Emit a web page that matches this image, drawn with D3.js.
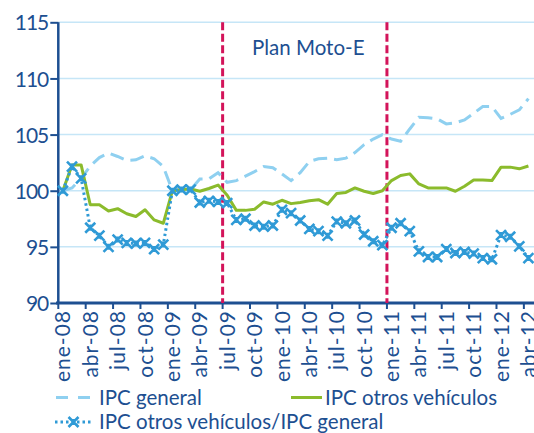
<!DOCTYPE html>
<html><head><meta charset="utf-8">
<script src="https://cdn.jsdelivr.net/npm/d3@7"></script>
<style>
html,body{margin:0;padding:0;background:#fff;}
svg{display:block;font-family:Lato, "Open Sans", sans-serif;}
</style></head>
<body>
<svg id="chart" width="534" height="433"></svg>
<script>
const months = ["ene","feb","mar","abr","may","jun","jul","ago","sep","oct","nov","dic"];
const years = ["08","09","10","11","12"];
const categories = [];
years.forEach(y => months.forEach(m => categories.push(m + "-" + y)));
categories.splice(52);

const ipcGeneral = [100.0,100.25,101.1,102.2,102.95,103.35,103.05,102.7,102.75,103.1,102.85,102.15,
  100.0,100.0,100.1,101.05,101.05,101.6,100.75,100.9,101.3,101.7,102.15,102.05,
  101.5,100.9,101.6,102.6,102.85,102.9,102.75,102.9,103.4,104.1,104.6,105.0,
  104.6,104.4,105.5,106.55,106.5,106.4,105.95,106.05,106.3,106.9,107.5,107.5,
  106.45,106.8,107.2,108.2];
const ipcOtros = [100.0,102.3,102.3,98.75,98.75,98.2,98.4,97.95,97.7,98.3,97.4,97.1,
  100.0,100.1,100.15,99.95,100.2,100.5,99.6,98.25,98.25,98.35,99.0,98.8,
  99.15,98.85,98.95,99.1,99.2,98.8,99.75,99.85,100.25,99.95,99.75,100.0,
  100.9,101.35,101.5,100.6,100.25,100.25,100.25,99.95,100.4,100.95,100.95,100.9,
  102.1,102.1,101.95,102.2];
const ratio = [100.0,102.15,101.1,96.7,96.0,95.0,95.65,95.35,95.3,95.35,94.8,95.2,
  100.0,100.1,100.1,98.95,99.1,99.0,98.9,97.4,97.5,96.9,96.8,96.9,
  98.3,98.0,97.35,96.6,96.4,96.0,97.25,97.1,97.35,96.1,95.5,95.15,
  96.7,97.1,96.4,94.6,94.1,94.1,94.8,94.45,94.55,94.4,94.0,93.9,
  96.05,95.9,95.05,94.0];
const yTicks = [90,95,100,105,110,115];
const tickMonths = categories.filter((c,i) => i % 3 === 0);
const markerMonths = ["jul-09","ene-11"];
const annotation = "Plan Moto-E";
const seriesNames = ["IPC general","IPC otros vehículos","IPC otros vehículos/IPC general"];

const C = {text:"#1d4f91", grid:"#c6e6f7", general:"#8fd0f0", otros:"#8bbb2c", ratio:"#2f9ad6", red:"#d3145a"};

const svg = d3.select("#chart");
const x = d3.scaleBand().domain(categories).range([58.3, 533]).paddingInner(0).paddingOuter(0);
const cx = c => x(c) + x.bandwidth()/2;
const y = d3.scaleLinear().domain([90,115]).range([303, 22.3]);

// gridlines
svg.append("g").selectAll("line").data(yTicks.filter(t => t > 90)).join("line")
  .attr("x1", 58.3).attr("x2", 534).attr("y1", d => y(d)).attr("y2", d => y(d))
  .attr("stroke", C.grid).attr("stroke-width", 1.5);

// y axis
const yAxis = svg.append("g").attr("transform", "translate(58.3,0)")
  .call(d3.axisLeft(y).tickValues(yTicks).tickSize(8).tickPadding(2).tickFormat(d3.format("d")));
yAxis.select(".domain").remove();
yAxis.selectAll(".tick line").attr("stroke", C.text).attr("stroke-width", 2);
yAxis.selectAll(".tick text").attr("fill", C.text).attr("font-size", 21)
  .attr("font-family", "Lato").attr("letter-spacing", -1).attr("dy", "0.36em");
svg.append("line").attr("x1", 58.3).attr("x2", 58.3).attr("y1", y(115)).attr("y2", y(90))
  .attr("stroke", C.text).attr("stroke-width", 2.5);

// x axis
const xAxisG = svg.append("g").attr("transform", "translate(0," + y(90) + ")");
xAxisG.selectAll("line.tk").data(tickMonths).join("line").attr("class","tk")
  .attr("x1", d => x(d)).attr("x2", d => x(d)).attr("y1", 0).attr("y2", 6)
  .attr("stroke", C.text).attr("stroke-width", 2);
xAxisG.selectAll("text").data(tickMonths).join("text")
  .attr("transform", d => "translate(" + cx(d) + ",7) rotate(-90)")
  .attr("text-anchor", "end").attr("dy", "0.36em")
  .attr("fill", C.text).attr("font-size", 21).attr("letter-spacing", 1).attr("font-family", "Lato")
  .text(d => d);
svg.append("line").attr("x1", 56).attr("x2", 534).attr("y1", y(90)).attr("y2", y(90))
  .attr("stroke", C.text).attr("stroke-width", 3);

// red vertical markers
svg.append("g").selectAll("line").data(markerMonths).join("line")
  .attr("x1", d => x(d)).attr("x2", d => x(d)).attr("y1", y(115)).attr("y2", y(90))
  .attr("stroke", C.red).attr("stroke-width", 3).attr("stroke-dasharray", "8,3.5");

// annotation
svg.append("text").attr("x", 252).attr("y", 55).attr("fill", C.text)
  .attr("font-size", 20.5).attr("font-family", "Lato").text(annotation);

const line = d3.line().x((d,i) => cx(categories[i])).y(d => y(d));

svg.append("path").datum(ipcGeneral).attr("d", line).attr("fill","none")
  .attr("stroke", C.general).attr("stroke-width", 3).attr("stroke-dasharray", "14,7");
svg.append("path").datum(ipcOtros).attr("d", line).attr("fill","none")
  .attr("stroke", C.otros).attr("stroke-width", 3).attr("stroke-linejoin","round");
svg.append("path").datum(ratio).attr("d", line).attr("fill","none")
  .attr("stroke", C.ratio).attr("stroke-width", 3).attr("stroke-dasharray", "2.5,3");

const xMark = "M-5,-5L5,5M-5,5L5,-5M0,-3L0,3";
svg.append("g").selectAll("path").data(ratio).join("path")
  .attr("transform", (d,i) => "translate(" + cx(categories[i]) + "," + y(d) + ")")
  .attr("d", xMark).attr("fill","none").attr("stroke", C.ratio).attr("stroke-width", 2.6);

// legend
const lg = svg.append("g").attr("font-family","Lato").attr("font-size", 20.5).attr("fill", C.text);
lg.append("line").attr("x1",56).attr("x2",90).attr("y1",397.5).attr("y2",397.5)
  .attr("stroke", C.general).attr("stroke-width",3).attr("stroke-dasharray","12,10");
lg.append("text").attr("x",99).attr("y",404.5).text(seriesNames[0]);
lg.append("line").attr("x1",291).attr("x2",322).attr("y1",397.5).attr("y2",397.5)
  .attr("stroke", C.otros).attr("stroke-width",3);
lg.append("text").attr("x",325).attr("y",404.5).text(seriesNames[1]);
lg.append("line").attr("x1",55).attr("x2",92).attr("y1",422).attr("y2",422)
  .attr("stroke", C.ratio).attr("stroke-width",3).attr("stroke-dasharray","2.5,3");
lg.append("path").attr("transform","translate(73.5,422)").attr("d", xMark)
  .attr("fill","none").attr("stroke", C.ratio).attr("stroke-width",2.6);
lg.append("text").attr("x",99).attr("y",429).text(seriesNames[2]);
</script>
</body></html>
